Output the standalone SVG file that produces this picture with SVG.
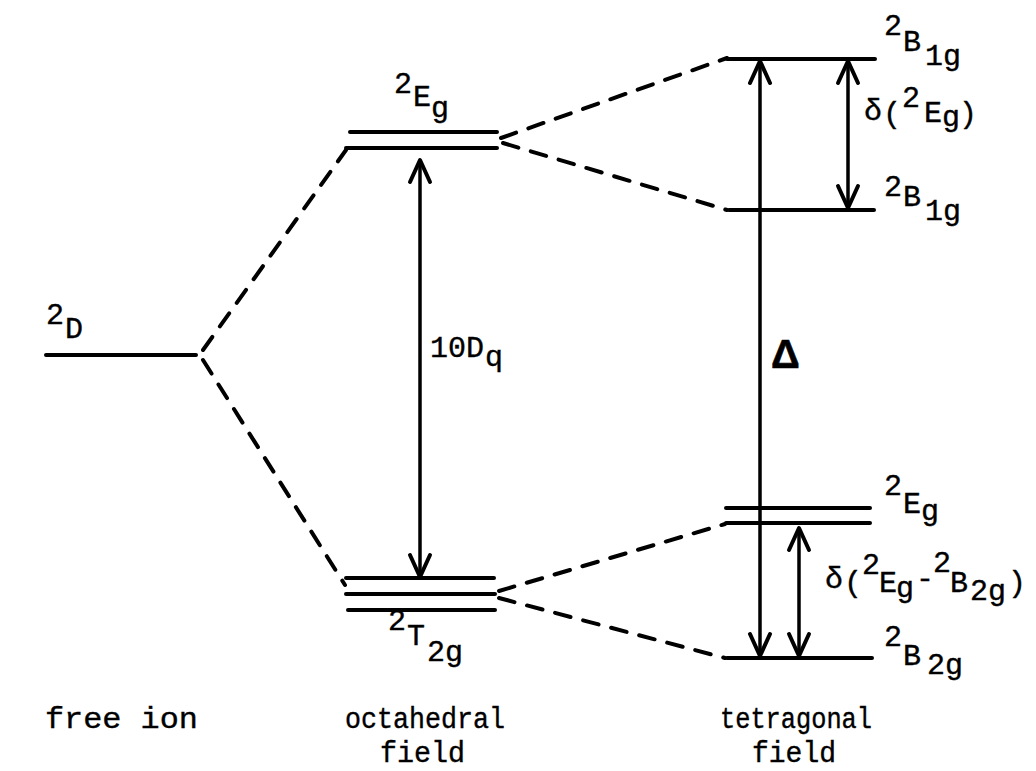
<svg xmlns="http://www.w3.org/2000/svg" width="1036" height="771" viewBox="0 0 1036 771">
<style>
  .lvl { stroke: #000; stroke-width: 4; stroke-linecap: round; fill: none; }
  .dash { stroke: #000; stroke-width: 4; stroke-linecap: round; fill: none; stroke-dasharray: 16 13; }
  .arr { stroke: #000; stroke-width: 3.5; fill: none; marker-start: url(#ah); marker-end: url(#ah); }
  text { font-family: "Liberation Mono", "Courier New", monospace; font-size: 30px; fill: #000; stroke: #000; stroke-width: 0.4; }
  .delta { font-family: "Liberation Sans", Arial, sans-serif; font-weight: bold; font-size: 40px; stroke-width: 0.6; }
</style>
<defs>
  <marker id="ah" markerUnits="userSpaceOnUse" markerWidth="40" markerHeight="40" refX="0" refY="0" viewBox="-30 -20 40 40" orient="auto-start-reverse" overflow="visible">
    <path d="M-22,-10 L0,0 L-22,10" fill="none" stroke="#000" stroke-width="4" stroke-linejoin="round" stroke-linecap="round"/>
  </marker>
</defs>
<rect width="1036" height="771" fill="#fff"/>

<g id="connectors">
  <path class="dash" d="M203,350 L346,150"/>
  <path class="dash" d="M203,360 L345,585"/>
  <path class="dash" d="M501,138 L727,58"/>
  <path class="dash" d="M503,143 L727,210"/>
  <path class="dash" d="M499,591 L725,524"/>
  <path class="dash" d="M499,598 L725,658"/>
  <path class="arr" d="M420,160 L420,577"/>
  <path class="arr" d="M760,61 L760,656"/>
  <path class="arr" d="M848,61 L848,208"/>
  <path class="arr" d="M799,528 L799,656"/>
</g>

<g id="free-ion">
  <path class="lvl" d="M46,355 L196,355"/>
  <text x="46" y="324">2</text>
  <text x="65" y="338">D</text>
</g>

<g id="octahedral-Eg">
  <path class="lvl" d="M350,132 L497,132"/>
  <path class="lvl" d="M346,148 L497,148"/>
  <text x="394" y="93">2</text>
  <text x="413" y="106">E</text>
  <text x="431" y="117">g</text>
</g>

<g id="octahedral-T2g">
  <path class="lvl" d="M346,578 L494,578"/>
  <path class="lvl" d="M346,594 L495,594"/>
  <path class="lvl" d="M348,610 L495,610"/>
  <text x="388" y="630">2</text>
  <text x="407" y="645">T</text>
  <text x="427" y="661">2g</text>
</g>

<g id="tetragonal-B1g-upper">
  <path class="lvl" d="M727,59 L875,59"/>
  <text x="884" y="35">2</text>
  <text x="903" y="51">B</text>
  <text x="925" y="65">1g</text>
</g>

<g id="tetragonal-B1g-lower">
  <path class="lvl" d="M729,210 L874,210"/>
  <text x="884" y="196">2</text>
  <text x="903" y="206">B</text>
  <text x="925" y="220">1g</text>
</g>

<g id="tetragonal-Eg">
  <path class="lvl" d="M726,508 L870,508"/>
  <path class="lvl" d="M726,523 L870,523"/>
  <text x="884" y="495">2</text>
  <text x="903" y="513">E</text>
  <text x="921" y="520">g</text>
</g>

<g id="tetragonal-B2g">
  <path class="lvl" d="M727,658 L872,658"/>
  <text x="884" y="646">2</text>
  <text x="903" y="665">B</text>
  <text x="927" y="674">2g</text>
</g>

<g id="label-10Dq">
  <text x="430" y="357">10D</text>
  <text x="485" y="366">q</text>
</g>

<g id="label-Delta">
  <text class="delta" x="771" y="368">Δ</text>
</g>

<g id="label-delta-Eg">
  <text x="864" y="120">δ</text>
  <text x="883" y="123">(</text>
  <text x="902" y="107">2</text>
  <text x="924" y="122">E</text>
  <text x="942" y="126">g</text>
  <text x="959" y="123">)</text>
</g>

<g id="label-delta-Eg-B2g">
  <text x="825" y="588">δ</text>
  <text x="844" y="592">(</text>
  <text x="862" y="574">2</text>
  <text x="879" y="592">E</text>
  <text x="896" y="597">g</text>
  <text x="916" y="588">-</text>
  <text x="933" y="572">2</text>
  <text x="950" y="592">B</text>
  <text x="970" y="600">2g</text>
  <text x="1008" y="592">)</text>
</g>

<g id="axis-labels">
  <text x="45" y="728" textLength="153" lengthAdjust="spacingAndGlyphs">free ion</text>
  <text x="345" y="728" textLength="160" lengthAdjust="spacingAndGlyphs">octahedral</text>
  <text x="380" y="762" textLength="85" lengthAdjust="spacingAndGlyphs">field</text>
  <text x="720" y="728" textLength="152" lengthAdjust="spacingAndGlyphs">tetragonal</text>
  <text x="752" y="762" textLength="84" lengthAdjust="spacingAndGlyphs">field</text>
</g>
</svg>
